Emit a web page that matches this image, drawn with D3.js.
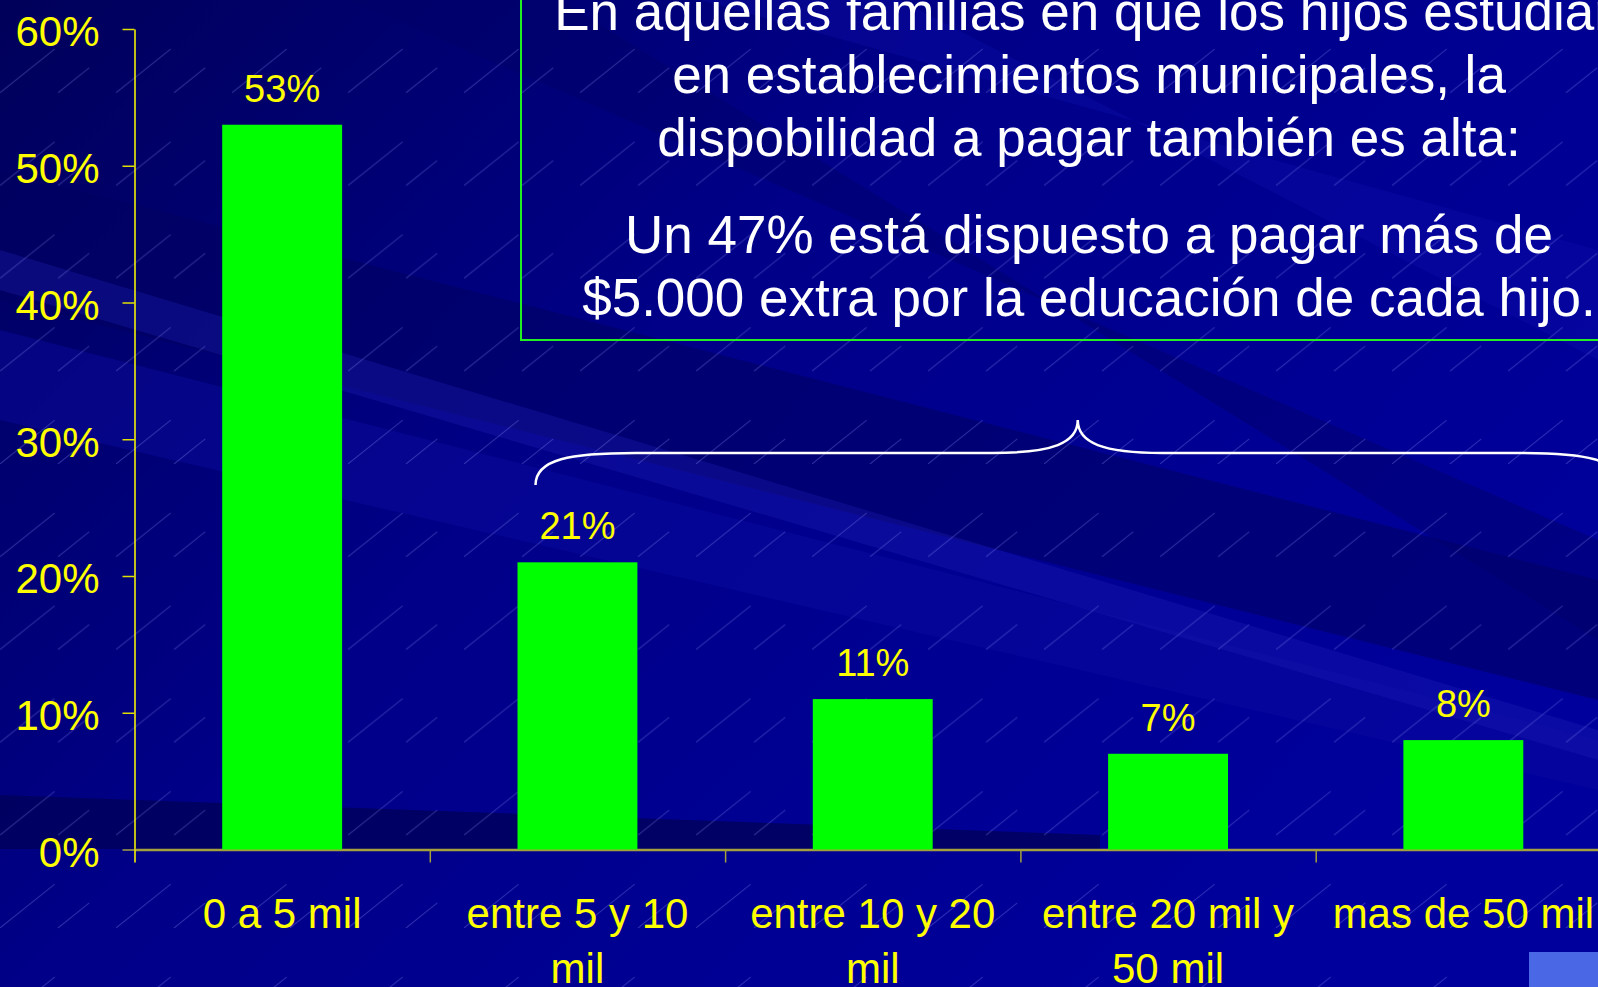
<!DOCTYPE html>
<meta charset="utf-8">
<style>
  body { margin: 0; background: #000080; overflow: hidden; }
  svg { display: block; font-family: "Liberation Sans", Arial, sans-serif; }
  .axis text { fill: #ffff00; font-size: 42px; }
  .value { fill: #ffff00; font-size: 38px; text-anchor: middle; }
  .xlabel { fill: #ffff00; font-size: 42px; text-anchor: middle; }
  .note { fill: #ffffff; font-size: 53px; text-anchor: middle; }
</style>
<div class="chart"></div>
<script src="https://cdn.jsdelivr.net/npm/d3@7"></script>
<script>
  // data
  var categories = ["0 a 5 mil", "entre 5 y 10 mil", "entre 10 y 20 mil", "entre 20 mil y 50 mil", "mas de 50 mil"];
  var shares = [0.53, 0.21, 0.11, 0.07, 0.08];
  var yTicks = [0, 0.1, 0.2, 0.3, 0.4, 0.5, 0.6];
  var noteLines = [
    "En aquellas familias en que los hijos estudian",
    "en establecimientos municipales, la",
    "dispobilidad a pagar también es alta:",
    "Un 47% está dispuesto a pagar más de",
    "$5.000 extra por la educación de cada hijo."
  ];

  var width = 1598, height = 987;
  var plotLeft = 134.5, plotRight = 1611, plotTop = 29, plotBottom = 849.5;

  var svg = d3.select(".chart").append("svg")
      .attr("width", width)
      .attr("height", height);

  // ---- background ----
  var defs = svg.append("defs");
  var bg = defs.append("linearGradient").attr("id", "bg")
      .attr("x1", 0).attr("y1", 0).attr("x2", 1).attr("y2", 0.6);
  bg.append("stop").attr("offset", "0%").attr("stop-color", "#00005a");
  bg.append("stop").attr("offset", "45%").attr("stop-color", "#000088");
  bg.append("stop").attr("offset", "100%").attr("stop-color", "#00009c");

  var hatch = defs.append("pattern").attr("id", "hatch")
      .attr("patternUnits", "userSpaceOnUse")
      .attr("width", 116).attr("height", 92.8);
  hatch.append("line").attr("x1", 0).attr("y1", 92.8).attr("x2", 116).attr("y2", 0)
      .attr("stroke", "#9a9aff").attr("stroke-opacity", 0.3)
      .attr("stroke-dasharray", "70 78.5");
  hatch.append("line").attr("x1", 58).attr("y1", 92.8).attr("x2", 116).attr("y2", 46.4)
      .attr("stroke", "#9a9aff").attr("stroke-opacity", 0.3)
      .attr("stroke-dasharray", "40 40");

  svg.append("rect").attr("width", width).attr("height", height).attr("fill", "url(#bg)");

  var bands = [
    {pts: [[0, 170], [0, 300], [1598, 700], [1598, 580]], c: "#000060", o: 0.55},
    {pts: [[0, 330], [0, 420], [1598, 790], [1598, 740]], c: "#0a0aa0", o: 0.45},
    {pts: [[350, 0], [560, 0], [1598, 640], [1598, 540]], c: "#000068", o: 0.45},
    {pts: [[700, 0], [900, 0], [1598, 360], [1598, 250]], c: "#1010b0", o: 0.3},
    {pts: [[0, 795], [0, 849], [1100, 849], [1100, 835]], c: "#00005a", o: 0.8},
    {pts: [[0, 250], [0, 290], [1598, 760], [1598, 730]], c: "#2020b8", o: 0.3}
  ];
  svg.append("g").selectAll("path").data(bands).enter().append("path")
      .attr("d", function (d) { return "M" + d.pts.join("L") + "Z"; })
      .attr("fill", function (d) { return d.c; })
      .attr("fill-opacity", function (d) { return d.o; });

  svg.append("rect").attr("width", width).attr("height", height).attr("fill", "url(#hatch)");

  // ---- scales ----
  var x = d3.scaleBand()
      .domain(categories)
      .range([plotLeft, plotRight])
      .paddingInner(0.594)
      .paddingOuter(0.297);

  var xEdge = d3.scaleLinear().domain([0, categories.length]).range([plotLeft, plotRight]);

  var y = d3.scaleLinear().domain([0, 0.6]).range([plotBottom, plotTop]);

  // ---- axes ----
  var yAxis = d3.axisLeft(y)
      .tickValues(yTicks)
      .tickSize(12)
      .tickSizeOuter(0)
      .tickPadding(23)
      .tickFormat(d3.format(".0%"));

  var gy = svg.append("g")
      .attr("class", "y axis")
      .attr("transform", "translate(" + plotLeft + ",0)")
      .call(yAxis);
  gy.select(".domain").attr("stroke", "#ffff00").attr("stroke-width", 1.5);
  gy.selectAll(".tick line").attr("stroke", "#e0e000").attr("stroke-width", 1.5);
  gy.selectAll(".tick text").attr("dy", "0.4em");
  gy.selectAll(".tick line").filter(function (d) { return d === 0; }).attr("stroke", "#a4a03c");

  var xAxis = d3.axisBottom(xEdge)
      .tickValues(d3.range(categories.length + 1))
      .tickSize(13)
      .tickSizeOuter(0)
      .tickFormat("");

  var gx = svg.append("g")
      .attr("class", "x axis")
      .attr("transform", "translate(0," + plotBottom + ")")
      .call(xAxis);
  gx.select(".domain").attr("stroke", "#a4a03c").attr("stroke-width", 2.5);
  gx.selectAll(".tick line").attr("stroke", "#a4a03c").attr("stroke-width", 1.5);
  gx.selectAll(".tick line").filter(function (d) { return d === 0; }).attr("stroke", "#ffff00");

  // ---- bars ----
  var data = categories.map(function (c, i) { return {cat: c, v: shares[i]}; });

  svg.append("g").selectAll("rect")
      .data(data)
      .enter().append("rect")
      .attr("x", function (d) { return x(d.cat); })
      .attr("y", function (d) { return y(d.v); })
      .attr("width", x.bandwidth())
      .attr("height", function (d) { return y(0) - y(d.v); })
      .attr("fill", "#00ff00");

  svg.append("g").selectAll("text")
      .data(data)
      .enter().append("text")
      .attr("class", "value")
      .attr("x", function (d) { return x(d.cat) + x.bandwidth() / 2; })
      .attr("y", function (d) { return y(d.v) - 23; })
      .text(function (d) { return d3.format(".0%")(d.v); });

  // category labels, wrapped
  svg.append("g").selectAll("text")
      .data(categories)
      .enter().append("text")
      .attr("class", "xlabel")
      .attr("x", function (d) { return x(d) + x.bandwidth() / 2; })
      .attr("y", plotBottom + 78)
      .text(function (d) { return d; })
      .call(wrap, 272);

  function wrap(texts, w) {
    texts.each(function () {
      var text = d3.select(this),
          words = text.text().split(/\s+/),
          cx = text.attr("x"), cy = text.attr("y"),
          line = [], lineNo = 0,
          tspan = text.text(null).append("tspan").attr("x", cx).attr("y", cy);
      words.forEach(function (word) {
        line.push(word);
        tspan.text(line.join(" "));
        if (tspan.node().getComputedTextLength() > w && line.length > 1) {
          line.pop();
          tspan.text(line.join(" "));
          line = [word];
          lineNo++;
          tspan = text.append("tspan").attr("x", cx).attr("y", +cy + lineNo * 55).text(word);
        }
      });
    });
  }

  // ---- brace over the four upper ranges ----
  var bxL = x(categories[1]) + 18,
      bxR = xEdge(categories.length) + 9,
      mid = (bxL + bxR) / 2,
      yEnd = y(0.2665), yBar = y(0.29), yPeak = y(0.314);

  var p = d3.path();
  p.moveTo(bxL, yEnd);
  p.bezierCurveTo(bxL, yBar + 6, bxL + 35, yBar, bxL + 100, yBar);
  p.lineTo(mid - 85, yBar);
  p.bezierCurveTo(mid - 25, yBar, mid, yBar - 10, mid, yPeak);
  p.bezierCurveTo(mid, yBar - 10, mid + 25, yBar, mid + 85, yBar);
  p.lineTo(bxR - 100, yBar);
  p.bezierCurveTo(bxR - 35, yBar, bxR, yBar + 6, bxR, yEnd);

  svg.append("path")
      .attr("d", p.toString())
      .attr("fill", "none")
      .attr("stroke", "#ffffff")
      .attr("stroke-width", 2.5);

  // ---- note box ----
  svg.append("rect")
      .attr("x", 521).attr("y", -10)
      .attr("width", 1200).attr("height", 350)
      .attr("fill", "none")
      .attr("stroke", "#22ee22")
      .attr("stroke-width", 2);

  var noteY = [30, 93, 156, 253, 316];
  svg.append("g").selectAll("text")
      .data(noteLines)
      .enter().append("text")
      .attr("class", "note")
      .attr("x", 1089)
      .attr("y", function (d, i) { return noteY[i]; })
      .text(function (d) { return d; });

  // slide corner button
  svg.append("rect")
      .attr("x", 1529).attr("y", 952)
      .attr("width", 80).attr("height", 40)
      .attr("fill", "#4a68e6");
</script>
